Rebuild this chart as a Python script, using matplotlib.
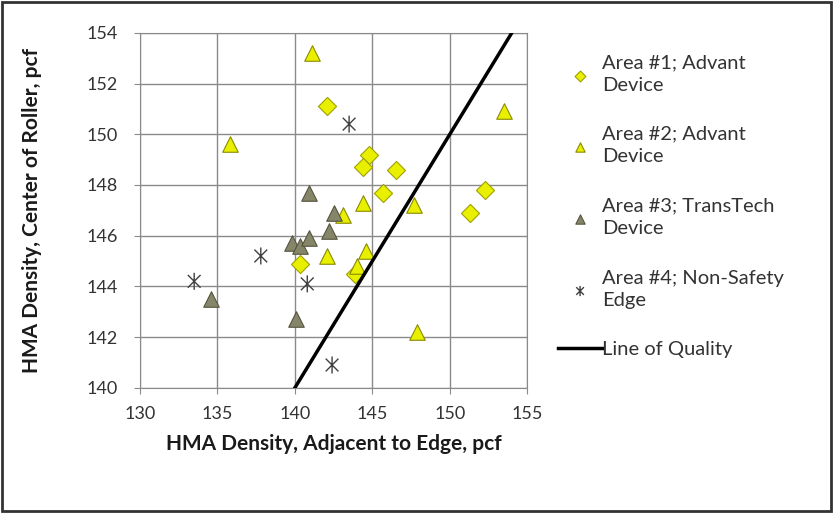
import numpy as np
import matplotlib
matplotlib.use("Agg")
from matplotlib import pyplot as plt
from matplotlib.path import Path
from matplotlib.patches import Rectangle

plt.rcParams["font.family"] = ["Lato", "DejaVu Sans"]

# Area #1; Advant Device
area1_x = [142.1, 144.8, 144.4, 146.5, 145.7, 152.3, 151.3, 140.3, 143.9]
area1_y = [151.1, 149.2, 148.7, 148.6, 147.7, 147.8, 146.9, 144.9, 144.5]

# Area #2; Advant Device
area2_x = [141.1, 135.8, 153.5, 144.4, 143.1, 142.1, 144.6, 144.0, 147.7, 147.9]
area2_y = [153.2, 149.6, 150.9, 147.3, 146.8, 145.2, 145.4, 144.8, 147.2, 142.2]

# Area #3; TransTech Device
area3_x = [140.9, 142.5, 142.2, 139.8, 140.3, 140.9, 134.6, 140.1]
area3_y = [147.7, 146.9, 146.2, 145.7, 145.6, 145.9, 143.5, 142.7]

# Area #4; Non-Safety Edge
area4_x = [143.5, 137.8, 133.5, 140.8, 142.4]
area4_y = [150.4, 145.2, 144.2, 144.1, 140.9]

# Line of quality (x = y)
quality_x = [140, 154]
quality_y = [140, 154]

labels = ["Area #1; Advant\nDevice", "Area #2; Advant\nDevice",
          "Area #3; TransTech\nDevice", "Area #4; Non-Safety\nEdge",
          "Line of Quality"]

# Excel style star marker: an x with a vertical bar
star = Path([(0, -1), (0, 1), (-0.75, -0.75), (0.75, 0.75), (-0.75, 0.75), (0.75, -0.75)],
            [Path.MOVETO, Path.LINETO] * 3)

fig = plt.figure(figsize=(8.33, 5.13), dpi=100)
ax = fig.add_axes([0.168, 0.244, 0.465, 0.692])

grid_col = "#8a8a8a"
yellow = "#e8f000"

ax.scatter(area1_x, area1_y, marker="D", s=85, color=yellow, edgecolor="#a0a000",
           linewidth=0.8, zorder=3, label=labels[0])
ax.scatter(area2_x, area2_y, marker="^", s=125, color=yellow, edgecolor="#8a8a00",
           linewidth=0.8, zorder=3, label=labels[1])
ax.scatter(area3_x, area3_y, marker="^", s=125, color="#85856a", edgecolor="#55553f",
           linewidth=0.8, zorder=3, label=labels[2])
ax.scatter(area4_x, area4_y, marker=star, s=150, facecolor="none", edgecolor="#404040",
           linewidth=1.0, zorder=3, label=labels[3])
ax.plot(quality_x, quality_y, color="black", linewidth=2.5, zorder=4, label=labels[4])

ax.set_xlim(130, 155)
ax.set_ylim(140, 154)
ax.set_xticks(np.arange(130, 156, 5))
ax.set_yticks(np.arange(140, 155, 2))
ax.grid(True, color=grid_col, linewidth=1.0)
ax.set_axisbelow(True)
for sp in ax.spines.values():
    sp.set_color(grid_col)
ax.tick_params(direction="out", length=4, color=grid_col, labelsize=13,
               labelcolor="#333333", pad=9)
ax.tick_params(axis="y", pad=12)

ax.set_xlabel("HMA Density, Adjacent to Edge, pcf", fontsize=15, fontweight="bold",
              color="#1a1a1a", labelpad=9)
ax.set_ylabel("HMA Density, Center of Roller, pcf", fontsize=15, fontweight="bold",
              color="#1a1a1a", labelpad=32)

leg = fig.legend(loc="upper left", bbox_to_anchor=(0.648, 0.93), frameon=False,
                 fontsize=14.5, labelspacing=1.6, handlelength=2.2, handletextpad=0.0,
                 scatterpoints=1, markerscale=0.6)
for t in leg.get_texts():
    t.set_color("#333333")
    t.set_linespacing(1.4)

# outer frame around the whole picture
fig.patches.append(Rectangle((0.003, 0.004), 0.994, 0.992, transform=fig.transFigure,
                             fill=False, edgecolor="#333333", linewidth=2))

fig.savefig("out.png", dpi=100)
